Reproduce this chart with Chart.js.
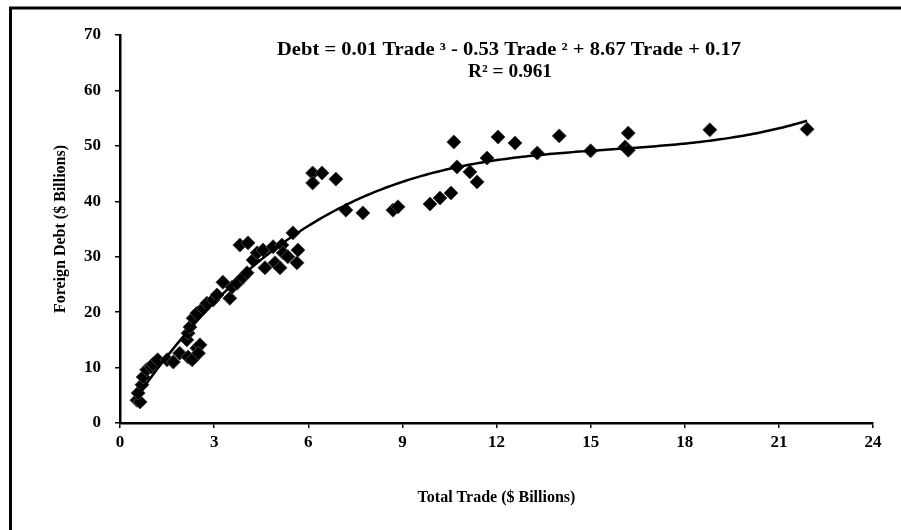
<!DOCTYPE html>
<html>
<head>
<meta charset="utf-8">
<script src="https://cdn.jsdelivr.net/npm/chart.js@4"></script>
<style>
  html, body { margin: 0; padding: 0; background: #fff; }
  #wrap { width: 901px; height: 530px; }
</style>
</head>
<body>
<div id="wrap"><canvas id="c" width="901" height="530"></canvas></div>
<script>
// Total trade and foreign debt, $ billions, one entry per observation
const trade = [
  0.54, 0.64, 0.58, 0.70, 0.74, 0.85, 1.00, 1.05, 1.20, 1.50,
  1.70, 1.90, 2.17, 2.30, 2.45, 2.55, 2.50, 2.13, 2.17, 2.23,
  2.33, 2.45, 2.65, 2.77, 2.97, 3.09, 3.28, 3.50, 3.57, 3.73,
  3.92, 4.05, 3.82, 4.08, 4.24, 4.37, 4.56, 4.62, 4.88, 4.94,
  5.16, 5.20, 5.35, 5.51, 5.64, 5.67, 5.10,
  6.14, 6.44, 6.14, 6.88, 7.20, 7.74, 8.70, 8.86, 9.88,
  10.20, 10.55, 10.64, 10.74, 11.15, 11.38, 11.70, 12.05, 12.59, 13.30,
  14.00, 15.00, 16.10, 16.20, 16.20, 18.80, 21.90
];
const debt = [
  4.1, 3.8, 5.4, 6.9, 8.3, 9.6, 10.1, 10.6, 11.4, 11.4,
  11.0, 12.6, 11.9, 11.4, 13.5, 14.1, 12.6, 15.0, 16.2, 17.3,
  18.9, 19.8, 20.7, 21.6, 22.2, 23.1, 25.4, 22.5, 24.5, 25.2,
  26.3, 27.1, 32.1, 32.5, 29.4, 30.7, 31.2, 28.0, 31.8, 28.9,
  32.1, 30.7, 30.0, 34.3, 28.9, 31.2, 28.0,
  45.1, 45.1, 43.3, 44.0, 38.4, 37.9, 38.4, 39.0, 39.5,
  40.6, 41.5, 50.7, 46.2, 45.3, 43.5, 47.8, 51.6, 50.5, 48.7,
  51.8, 49.1, 49.8, 52.3, 49.2, 52.9, 53.0
];

// Axis ticks
const xTicks = [0, 3, 6, 9, 12, 15, 18, 21, 24];
const yTicks = [0, 10, 20, 30, 40, 50, 60, 70];

// Cubic trend: a*x^3 + b*x^2 + c*x + d
const trendCoef = [0.0113, -0.53, 8.67, 0.17];
const rSquared = 0.961;

const points = trade.map((t, i) => ({ x: t, y: debt[i] }));

const trendFn = x => trendCoef[0] * x * x * x + trendCoef[1] * x * x + trendCoef[2] * x + trendCoef[3];
const xMin = Math.min(...trade), xMax = Math.max(...trade);
const trendPts = [];
for (let k = 0; k <= 200; k++) {
  const x = xMin + (xMax - xMin) * k / 200;
  trendPts.push({ x: x, y: trendFn(x) });
}

function fmt(v) { return Math.abs(v).toFixed(2); }
const sign = v => (v < 0 ? ' - ' : ' + ');
const equation = 'Debt = ' + fmt(trendCoef[0]) + ' Trade \u00B3' +
  sign(trendCoef[1]) + fmt(trendCoef[1]) + ' Trade \u00B2' +
  sign(trendCoef[2]) + fmt(trendCoef[2]) + ' Trade' +
  sign(trendCoef[3]) + fmt(trendCoef[3]);
const r2Text = 'R\u00B2 = ' + rSquared.toFixed(3);

const serif = '"Liberation Serif", "Times New Roman", serif';

// White page with a heavy black rule along the top and left edges
const framePlugin = {
  id: 'frame',
  beforeDraw(chart) {
    const ctx = chart.ctx;
    ctx.save();
    ctx.fillStyle = '#fff';
    ctx.fillRect(0, 0, chart.width, chart.height);
    ctx.strokeStyle = '#000';
    ctx.lineWidth = 3;
    ctx.beginPath();
    ctx.moveTo(10.5, chart.height);
    ctx.lineTo(10.5, 8);
    ctx.lineTo(chart.width, 8);
    ctx.stroke();
    ctx.restore();
  }
};

// Draw a line of text centred on (cx, cy), spread to the given width
function spreadText(ctx, text, cx, cy, width) {
  const w = ctx.measureText(text).width;
  ctx.save();
  ctx.translate(cx, cy);
  ctx.scale(width / w, 1);
  ctx.fillText(text, 0, 0);
  ctx.restore();
}

// Trend equation and R² above the curve
const equationPlugin = {
  id: 'equation',
  afterDraw(chart) {
    const ctx = chart.ctx;
    ctx.save();
    ctx.fillStyle = '#000';
    ctx.textAlign = 'center';
    ctx.textBaseline = 'middle';
    ctx.font = 'bold 18px ' + serif;
    spreadText(ctx, equation, 509, 50, 464);
    spreadText(ctx, r2Text, 510, 72, 84);
    ctx.restore();
  }
};

new Chart(document.getElementById('c'), {
  type: 'scatter',
  data: {
    datasets: [
      {
        type: 'line',
        data: trendPts,
        borderColor: '#000',
        borderWidth: 2.5,
        pointRadius: 0,
        fill: false,
        tension: 0
      },
      {
        data: points,
        pointStyle: 'rectRot',
        pointRadius: 7,
        backgroundColor: '#000',
        borderColor: '#444',
        borderWidth: 1
      }
    ]
  },
  options: {
    responsive: false,
    animation: false,
    devicePixelRatio: 1,
    events: [],
    layout: { padding: { left: 0, right: 28, top: 35, bottom: 0 } },
    plugins: { legend: { display: false }, tooltip: { enabled: false } },
    scales: {
      x: {
        type: 'linear',
        min: xTicks[0],
        max: xTicks[xTicks.length - 1],
        afterBuildTicks(scale) { scale.ticks = xTicks.map(v => ({ value: v })); },
        afterFit(scale) { scale.height = 107; },
        ticks: { color: '#000', padding: 4, font: { family: serif, size: 17, weight: 'bold' } },
        grid: { drawOnChartArea: false, drawTicks: true, tickLength: 5, color: '#000', lineWidth: 1.5 },
        border: { color: '#000', width: 2.5 },
        title: {
          display: true,
          text: 'Total Trade ($ Billions)',
          color: '#000',
          font: { family: serif, size: 16, weight: 'bold' },
          padding: { top: 0, bottom: 23 }
        }
      },
      y: {
        type: 'linear',
        min: yTicks[0],
        max: yTicks[yTicks.length - 1],
        afterBuildTicks(scale) { scale.ticks = yTicks.map(v => ({ value: v })); },
        afterFit(scale) { scale.width = 120; },
        ticks: { color: '#000', padding: 14, font: { family: serif, size: 17, weight: 'bold' } },
        grid: { drawOnChartArea: false, drawTicks: true, tickLength: 5, color: '#000', lineWidth: 1.5 },
        border: { color: '#000', width: 2.5 },
        title: {
          display: true,
          text: 'Foreign Debt ($ Billions)',
          color: '#000',
          font: { family: serif, size: 16, weight: 'bold' },
          padding: { top: 51, bottom: 0 }
        }
      }
    }
  },
  plugins: [framePlugin, equationPlugin]
});
</script>
</body>
</html>
